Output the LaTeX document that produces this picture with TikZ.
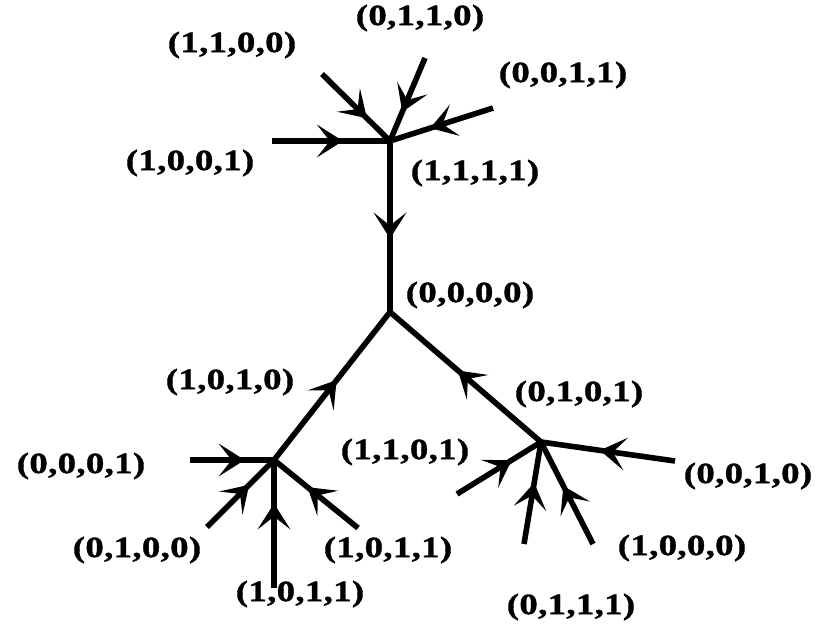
\documentclass[tikz,border=0pt]{standalone}
\usepackage{fontspec}
\usetikzlibrary{calc}
\newfontfamily\statefont{Liberation Serif}[FakeStretch=1.25,FakeBold=1.2,LetterSpace=1]
\begin{document}
\begin{tikzpicture}[x=1pt,y=-1pt,
  state/.style={font=\statefont\bfseries\fontsize{29.5}{31}\selectfont, inner sep=0pt},
  edge/.style={line width=5.6pt, line join=round}]
\useasboundingbox (0,0) rectangle (821,624);

% junction points
\coordinate (h1) at (390,141);
\coordinate (h0) at (390,312);
\coordinate (hl) at (274,460);
\coordinate (hr) at (541,442);

% free ends of the incoming edges
\coordinate (a1) at (272,141);
\coordinate (a2) at (322,74);
\coordinate (a3) at (425,58);
\coordinate (a4) at (493,108);
\coordinate (b1) at (190,460);
\coordinate (b2) at (207,527);
\coordinate (b3) at (274,588);
\coordinate (b4) at (358,528);
\coordinate (c1) at (457,494);
\coordinate (c2) at (524,544);
\coordinate (c3) at (593,544);
\coordinate (c4) at (675,461);

% each edge: the full line, plus a barbed arrowhead part way along it
\foreach \s/\t/\p in {a1/h1/0.6, a2/h1/0.66, a3/h1/0.65, a4/h1/0.61,
                     h1/h0/0.57, hl/h0/0.54, hr/h0/0.55,
                     b1/hl/0.65, b2/hl/0.63, b3/hl/0.66, b4/hl/0.6,
                     c1/hr/0.65, c2/hr/0.6, c3/hr/0.57, c4/hr/0.56}{
  \draw[edge] (\s) -- (\t);
  \coordinate (tip) at ($(\s)!\p!(\t)$);
  \coordinate (back) at ($(tip)!26pt!(\s)$);
  \fill[line join=miter] (tip) -- ($(back)!16.5pt!90:(tip)$) -- ($(tip)!13pt!(\s)$)
        -- ($(back)!16.5pt!-90:(tip)$) -- cycle;
}

% state labels
\node[state] (l1100) at (232,45)  {(1,1,0,0)};
\node[state] (l0110) at (420,18)  {(0,1,1,0)};
\node[state] (l0011) at (563,75)  {(0,0,1,1)};
\node[state] (l1001) at (190,163) {(1,0,0,1)};
\node[state] (l1111) at (475,173) {(1,1,1,1)};
\node[state] (l0000) at (470,295) {(0,0,0,0)};
\node[state] (l1010) at (230,382) {(1,0,1,0)};
\node[state] (l0101) at (579,394) {(0,1,0,1)};
\node[state] (l1101) at (405,452) {(1,1,0,1)};
\node[state] (l0001) at (81,466)  {(0,0,0,1)};
\node[state] (l0010) at (748,476) {(0,0,1,0)};
\node[state] (l0100) at (137,550) {(0,1,0,0)};
\node[state] (l1011a) at (388,550) {(1,0,1,1)};
\node[state] (l1011b) at (300,594) {(1,0,1,1)};
\node[state] (l1000) at (682,548) {(1,0,0,0)};
\node[state] (l0111) at (571,607) {(0,1,1,1)};
\end{tikzpicture}
\end{document}
